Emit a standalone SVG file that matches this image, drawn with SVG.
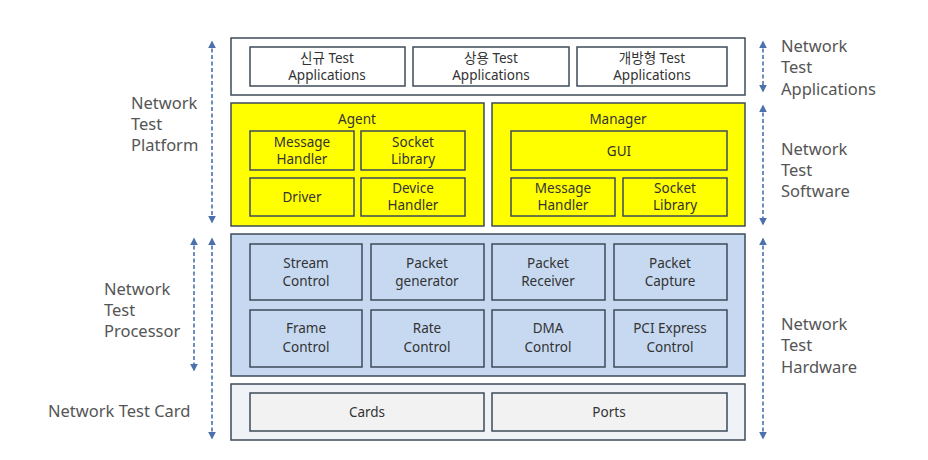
<svg xmlns="http://www.w3.org/2000/svg" width="928" height="460" viewBox="0 0 928 460">
<style>
text{font-family:"Noto Sans","Noto Sans CJK KR",sans-serif;fill:#333333;text-anchor:middle;font-size:13.5px}
.side{fill:#555555;text-anchor:start;font-size:16.5px}
.outer{stroke:#3e4b5a;stroke-width:1.5}
.inner{stroke:#3e4b5a;stroke-width:1.5}
.conn line{stroke:#4a70ad;stroke-width:1.6;stroke-dasharray:4 2.5}
</style>
<defs>
<marker id="ah" viewBox="0 0 10 10" refX="8" refY="5" markerWidth="5" markerHeight="5" orient="auto-start-reverse">
<path d="M0,0 L10,5 L0,10 z" fill="#4a70ad"/>
</marker>
</defs>
<rect width="928" height="460" fill="#ffffff"/>

<g id="apps">
<rect class="outer" x="231" y="38" width="514" height="57" fill="#ffffff"/>
<g id="app1"><rect class="inner" x="250" y="47" width="155" height="39" fill="#ffffff"/><text x="327" y="63">신규 Test</text><text x="327" y="80">Applications</text></g>
<g id="app2"><rect class="inner" x="413" y="47" width="156" height="39" fill="#ffffff"/><text x="491" y="63">상용 Test</text><text x="491" y="80">Applications</text></g>
<g id="app3"><rect class="inner" x="577" y="47" width="150" height="39" fill="#ffffff"/><text x="652" y="63">개방형 Test</text><text x="652" y="80">Applications</text></g>
</g>

<g id="agent">
<rect class="outer" x="231" y="103" width="253" height="123" fill="#ffff00"/>
<text x="357" y="124">Agent</text>
<g id="agent-msg"><rect class="inner" x="250" y="131" width="104" height="39" fill="#ffff00"/><text x="302" y="147">Message</text><text x="302" y="164">Handler</text></g>
<g id="agent-sock"><rect class="inner" x="361" y="131" width="104" height="39" fill="#ffff00"/><text x="413" y="147">Socket</text><text x="413" y="164">Library</text></g>
<g id="agent-drv"><rect class="inner" x="250" y="178" width="104" height="38" fill="#ffff00"/><text x="302" y="202">Driver</text></g>
<g id="agent-dev"><rect class="inner" x="361" y="178" width="104" height="38" fill="#ffff00"/><text x="413" y="193">Device</text><text x="413" y="210">Handler</text></g>
</g>

<g id="manager">
<rect class="outer" x="492" y="103" width="253" height="123" fill="#ffff00"/>
<text x="618" y="124">Manager</text>
<g id="gui"><rect class="inner" x="511" y="131" width="216" height="39" fill="#ffff00"/><text x="619" y="156">GUI</text></g>
<g id="mgr-msg"><rect class="inner" x="511" y="178" width="104" height="38" fill="#ffff00"/><text x="563" y="193">Message</text><text x="563" y="210">Handler</text></g>
<g id="mgr-sock"><rect class="inner" x="623" y="178" width="104" height="38" fill="#ffff00"/><text x="675" y="193">Socket</text><text x="675" y="210">Library</text></g>
</g>

<g id="processor">
<rect class="outer" x="231" y="234" width="514" height="142" fill="#c6d9f1"/>
<g id="stream"><rect class="inner" x="250" y="244" width="112" height="56" fill="#c6d9f1"/><text x="306" y="268">Stream</text><text x="306" y="286">Control</text></g>
<g id="pktgen"><rect class="inner" x="371" y="244" width="113" height="56" fill="#c6d9f1"/><text x="427" y="268">Packet</text><text x="427" y="286">generator</text></g>
<g id="pktrecv"><rect class="inner" x="492" y="244" width="113" height="56" fill="#c6d9f1"/><text x="548" y="268">Packet</text><text x="548" y="286">Receiver</text></g>
<g id="pktcap"><rect class="inner" x="614" y="244" width="113" height="56" fill="#c6d9f1"/><text x="670" y="268">Packet</text><text x="670" y="286">Capture</text></g>
<g id="frame"><rect class="inner" x="250" y="310" width="112" height="57" fill="#c6d9f1"/><text x="306" y="333">Frame</text><text x="306" y="352">Control</text></g>
<g id="rate"><rect class="inner" x="371" y="310" width="113" height="57" fill="#c6d9f1"/><text x="427" y="333">Rate</text><text x="427" y="352">Control</text></g>
<g id="dma"><rect class="inner" x="492" y="310" width="113" height="57" fill="#c6d9f1"/><text x="548" y="333">DMA</text><text x="548" y="352">Control</text></g>
<g id="pci"><rect class="inner" x="614" y="310" width="113" height="57" fill="#c6d9f1"/><text x="670" y="333">PCI Express</text><text x="670" y="352">Control</text></g>
</g>

<g id="card">
<rect class="outer" x="231" y="384" width="514" height="56" fill="#eff2f6"/>
<g id="cards"><rect class="inner" x="250" y="393" width="234" height="38" fill="#f2f2f2"/><text x="367" y="417">Cards</text></g>
<g id="ports"><rect class="inner" x="492" y="393" width="235" height="38" fill="#f2f2f2"/><text x="609" y="417">Ports</text></g>
</g>

<g class="conn" id="connectors">
<line x1="212" y1="42" x2="212" y2="222" marker-start="url(#ah)" marker-end="url(#ah)"/>
<line x1="194" y1="239" x2="194" y2="370" marker-start="url(#ah)" marker-end="url(#ah)"/>
<line x1="212" y1="239" x2="212" y2="438" marker-start="url(#ah)" marker-end="url(#ah)"/>
<line x1="763" y1="42" x2="763" y2="91" marker-start="url(#ah)" marker-end="url(#ah)"/>
<line x1="763" y1="106" x2="763" y2="224" marker-start="url(#ah)" marker-end="url(#ah)"/>
<line x1="763" y1="239" x2="763" y2="438" marker-start="url(#ah)" marker-end="url(#ah)"/>
</g>

<g id="labels">
<text class="side" x="131" y="109">Network</text><text class="side" x="131" y="130">Test</text><text class="side" x="131" y="151">Platform</text>
<text class="side" x="104" y="295">Network</text><text class="side" x="104" y="316">Test</text><text class="side" x="104" y="337">Processor</text>
<text class="side" x="48" y="417">Network Test Card</text>
<text class="side" x="781" y="52">Network</text><text class="side" x="781" y="73">Test</text><text class="side" x="781" y="95">Applications</text>
<text class="side" x="781" y="155">Network</text><text class="side" x="781" y="176">Test</text><text class="side" x="781" y="197">Software</text>
<text class="side" x="781" y="330">Network</text><text class="side" x="781" y="351">Test</text><text class="side" x="781" y="373">Hardware</text>
</g>
</svg>
